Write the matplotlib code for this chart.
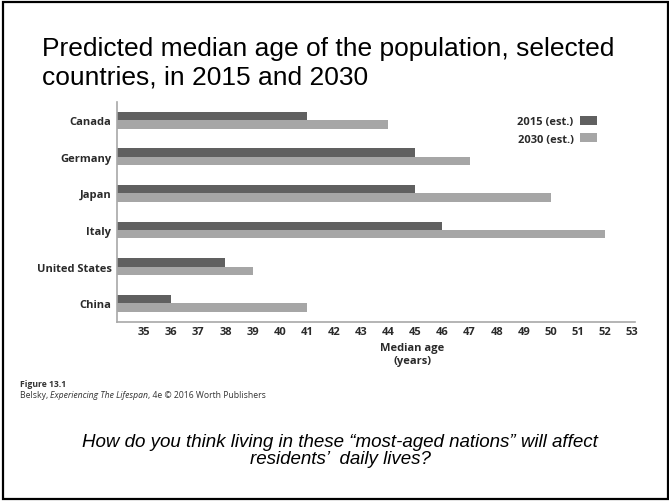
import matplotlib
matplotlib.use("Agg")
import matplotlib.pyplot as plt
from matplotlib.patches import Rectangle
from matplotlib.font_manager import FontProperties
import numpy as np

countries = ["Canada", "Germany", "Japan", "Italy", "United States", "China"]
age_2015 = [41, 45, 45, 46, 38, 36]
age_2030 = [44, 47, 50, 52, 39, 41]
series_labels = ["2015 (est.)", "2030 (est.)"]
x_ticks = list(range(35, 54))

W, H = 669, 502
fig = plt.figure(figsize=(W / 100, H / 100), dpi=100)
fig.patch.set_facecolor("white")

def fx(px):
    return px / W

def fy(py):
    return 1 - py / H

# slide border
fig.add_artist(Rectangle((fx(3), fy(499.5)), fx(665), 496.5 / H, transform=fig.transFigure,
                         fill=False, edgecolor="black", linewidth=1.6))

ax = fig.add_axes([fx(117), fy(322.5), fx(635 - 117), (322.5 - 103) / H])

y = np.arange(len(countries))
h = 0.23
dark = "#606060"
light = "#a6a6a6"
left0 = 34
b1 = ax.barh(y - h / 2, np.array(age_2015) - left0, left=left0, height=h, color=dark,
             label=series_labels[0])
b2 = ax.barh(y + h / 2, np.array(age_2030) - left0, left=left0, height=h, color=light,
             label=series_labels[1])

ax.set_xlim(34, 53.1)
ax.set_ylim(len(countries) - 0.5, -0.5)
ax.set_yticks(y)
ax.set_yticklabels(countries)
ax.set_xticks(x_ticks)
ax.set_xticklabels([str(t) for t in x_ticks])

lab_fp = FontProperties(family="Open Sans", weight="bold", size=8)
txt_col = "#2a2a2a"
for lab in ax.get_yticklabels() + ax.get_xticklabels():
    lab.set_fontproperties(lab_fp)
    lab.set_color(txt_col)
ax.tick_params(axis="both", length=0)
ax.tick_params(axis="x", pad=3.5)
ax.tick_params(axis="y", pad=4)

for s in ["top", "right"]:
    ax.spines[s].set_visible(False)
for s in ["left", "bottom"]:
    ax.spines[s].set_color("#a8a8a8")
    ax.spines[s].set_linewidth(1.2)

ax.annotate("Median age\n(years)", xy=(44.9, 0), xycoords=("data", "axes fraction"),
            xytext=(0, -15), textcoords="offset points", ha="center", va="top",
            fontproperties=lab_fp, color=txt_col, linespacing=1.15, annotation_clip=False)

leg = ax.legend(handles=[b1, b2], labels=series_labels, loc="upper right",
                bbox_to_anchor=(fx(597), fy(117)), bbox_transform=fig.transFigure,
                frameon=False, markerfirst=False, borderpad=0, borderaxespad=0,
                handlelength=1.5, handleheight=0.85, handletextpad=0.6, labelspacing=0.55,
                prop=lab_fp)
for t in leg.get_texts():
    t.set_color(txt_col)

# title
fig.text(fx(42), fy(37), "Predicted median age of the population, selected\ncountries, in 2015 and 2030",
         ha="left", va="top", fontfamily="Liberation Sans", fontsize=19, color="black",
         linespacing=1.22)

# caption
cap_size = 6.2
fig.text(fx(20), fy(385), "Figure 13.1", ha="left", va="center", fontfamily="Open Sans",
         fontweight="bold", fontsize=cap_size, color="#333333")
t1 = fig.text(fx(20), fy(396), "Belsky, ", ha="left", va="center", fontfamily="Open Sans",
              fontsize=cap_size, color="#333333")
t2 = ax.annotate("Experiencing The Lifespan", xy=(1, 0.5), xycoords=t1, ha="left", va="center",
                 fontfamily="Open Sans", fontstyle="italic", fontsize=cap_size, color="#333333",
                 annotation_clip=False)
t3 = ax.annotate(", 4e \u00a9 2016 Worth Publishers", xy=(1, 0.5), xycoords=t2, ha="left",
                 va="center", fontfamily="Open Sans", fontsize=cap_size, color="#333333",
                 annotation_clip=False)

# question
fig.text(fx(340), fy(451), "How do you think living in these \u201cmost-aged nations\u201d will affect\nresidents\u2019  daily lives?",
         ha="center", va="center", fontfamily="Liberation Sans", fontstyle="italic",
         fontsize=13.5, color="black", linespacing=1.05)

fig.savefig("out.png", dpi=100)
